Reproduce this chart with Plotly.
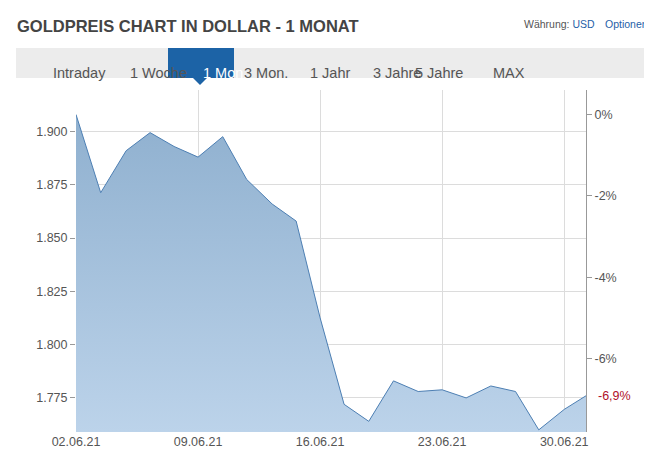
import plotly.graph_objects as go

dates = ["2021-06-02 00:00","2021-06-03 10:00","2021-06-04 21:00","2021-06-06 06:00","2021-06-07 15:00",
         "2021-06-09 00:00","2021-06-10 10:00","2021-06-11 19:00","2021-06-13 06:00","2021-06-14 15:00",
         "2021-06-16 00:00","2021-06-17 09:00","2021-06-18 19:00","2021-06-20 05:00","2021-06-21 15:00",
         "2021-06-23 00:00","2021-06-24 09:00","2021-06-25 19:00","2021-06-27 05:00","2021-06-28 13:00",
         "2021-06-30 00:00","2021-07-01 06:00"]
prices = [1908, 1871.3, 1891, 1899.5, 1893, 1888, 1897.6, 1877.5, 1866, 1858,
          1812.6, 1772, 1764, 1783, 1778, 1778.8, 1775, 1780.6, 1778, 1760, 1769.6, 1776]
x_ticks = ["2021-06-02", "2021-06-09", "2021-06-16", "2021-06-23", "2021-06-30"]
x_labels = ["02.06.21", "09.06.21", "16.06.21", "23.06.21", "30.06.21"]
y_ticks = [1775, 1800, 1825, 1850, 1875, 1900]
pct_ticks = [0, -2, -4, -6]
tabs = ["Intraday", "1 Woche", "1 Mon.", "3 Mon.", "1 Jahr", "3 Jahre", "5 Jahre", "MAX"]
tab_x = [43, 120, 193, 258, 322, 389, 457, 519]
selected = "1 Mon."

W, H = 652, 461
L, R, T, B = 68, 74, 82, 37
base = prices[0]
ymin, ymax = 1759, 1919.5
last_pct = (prices[-1] / base - 1) * 100

fig = go.Figure()
fig.add_trace(go.Scatter(x=dates, y=[ymin] * len(dates), mode="lines", line=dict(width=0),
                         showlegend=False, hoverinfo="skip"))
fig.add_trace(go.Scatter(
    x=dates, y=prices, mode="lines", line=dict(color="#4d7fb3", width=1),
    fill="tonexty",
    fillgradient=dict(type="vertical", colorscale=[[0, "#bcd3ea"], [1, "#8fb0cf"]]),
    hoverinfo="skip", showlegend=False))
fig.add_trace(go.Scatter(x=[dates[0]], y=[0], yaxis="y2", mode="markers",
                         marker=dict(opacity=0), showlegend=False, hoverinfo="skip"))

pw, ph = W - L - R, H - T - B
def fx(xp): return (xp - L) / pw
def fy(yp): return (H - B - yp) / ph

shapes = [
    dict(type="rect", xref="paper", yref="paper", x0=fx(8), x1=fx(642), y0=fy(70), y1=fy(40),
         fillcolor="#ececec", line=dict(width=0), layer="below"),
    dict(type="rect", xref="paper", yref="paper", x0=fx(160), x1=fx(226), y0=fy(70), y1=fy(40),
         fillcolor="#1c63a6", line=dict(width=0)),
    dict(type="path", xref="paper", yref="paper",
         path=f"M {fx(185)} {fy(70)} L {fx(199)} {fy(70)} L {fx(192)} {fy(77)} Z",
         fillcolor="#1c63a6", line=dict(width=0)),
]
ann = [
    dict(text="<b>GOLDPREIS CHART IN DOLLAR - 1 MONAT</b>", x=fx(7), y=fy(18), xref="paper", yref="paper",
         xanchor="left", yanchor="middle", showarrow=False, font=dict(size=16.5, color="#444", family="Arial")),
    dict(text="Währung: <span style='color:#1f5fa8'>USD</span>", x=fx(589), y=fy(16), xref="paper", yref="paper",
         xanchor="right", yanchor="middle", showarrow=False, font=dict(size=10.5, color="#555", family="Arial")),
    dict(text="Optionen", x=fx(642), y=fy(16), xref="paper", yref="paper",
         xanchor="right", yanchor="middle", showarrow=False, font=dict(size=10.5, color="#1f5fa8", family="Arial")),
    dict(text=f"{last_pct:.1f}%".replace(".", ","), x=1, y=prices[-1], xref="paper", yref="y",
         xanchor="left", xshift=10, yanchor="middle", showarrow=False, font=dict(size=12.5, color="#b0102a", family="Arial")),
]
for t, xc in zip(tabs, tab_x):
    ann.append(dict(text=t, x=fx(xc), y=fy(55), xref="paper", yref="paper", showarrow=False,
                    font=dict(size=14.5, color="white" if t == selected else "#555", family="Arial")))

fig.update_layout(
    width=W, height=H, margin=dict(l=L, r=R, t=T, b=B, autoexpand=False),
    paper_bgcolor="white", plot_bgcolor="white",
    font=dict(family="Arial", color="#555", size=12.5),
    xaxis=dict(type="date", range=["2021-06-02", "2021-07-01 06:00"], tickvals=x_ticks, ticktext=x_labels,
               showgrid=True, gridcolor="#dcdcdc", zeroline=False, showline=False, ticks="", automargin=False),
    yaxis=dict(range=[ymin, ymax], tickvals=y_ticks, tickformat=",d", showgrid=True, gridcolor="#dcdcdc",
               zeroline=False, ticks="outside", ticklen=5, tickcolor="#999", showline=False, automargin=False),
    yaxis2=dict(overlaying="y", side="right", range=[(ymin/base-1)*100, (ymax/base-1)*100],
                tickvals=pct_ticks, ticktext=[f"{v}%" for v in pct_ticks], showgrid=False, zeroline=False,
                showline=True, linecolor="#999", ticks="outside", ticklen=5, tickcolor="#999", automargin=False),
    separators=",.",
    shapes=shapes, annotations=ann,
)
fig.write_html("out.html")
